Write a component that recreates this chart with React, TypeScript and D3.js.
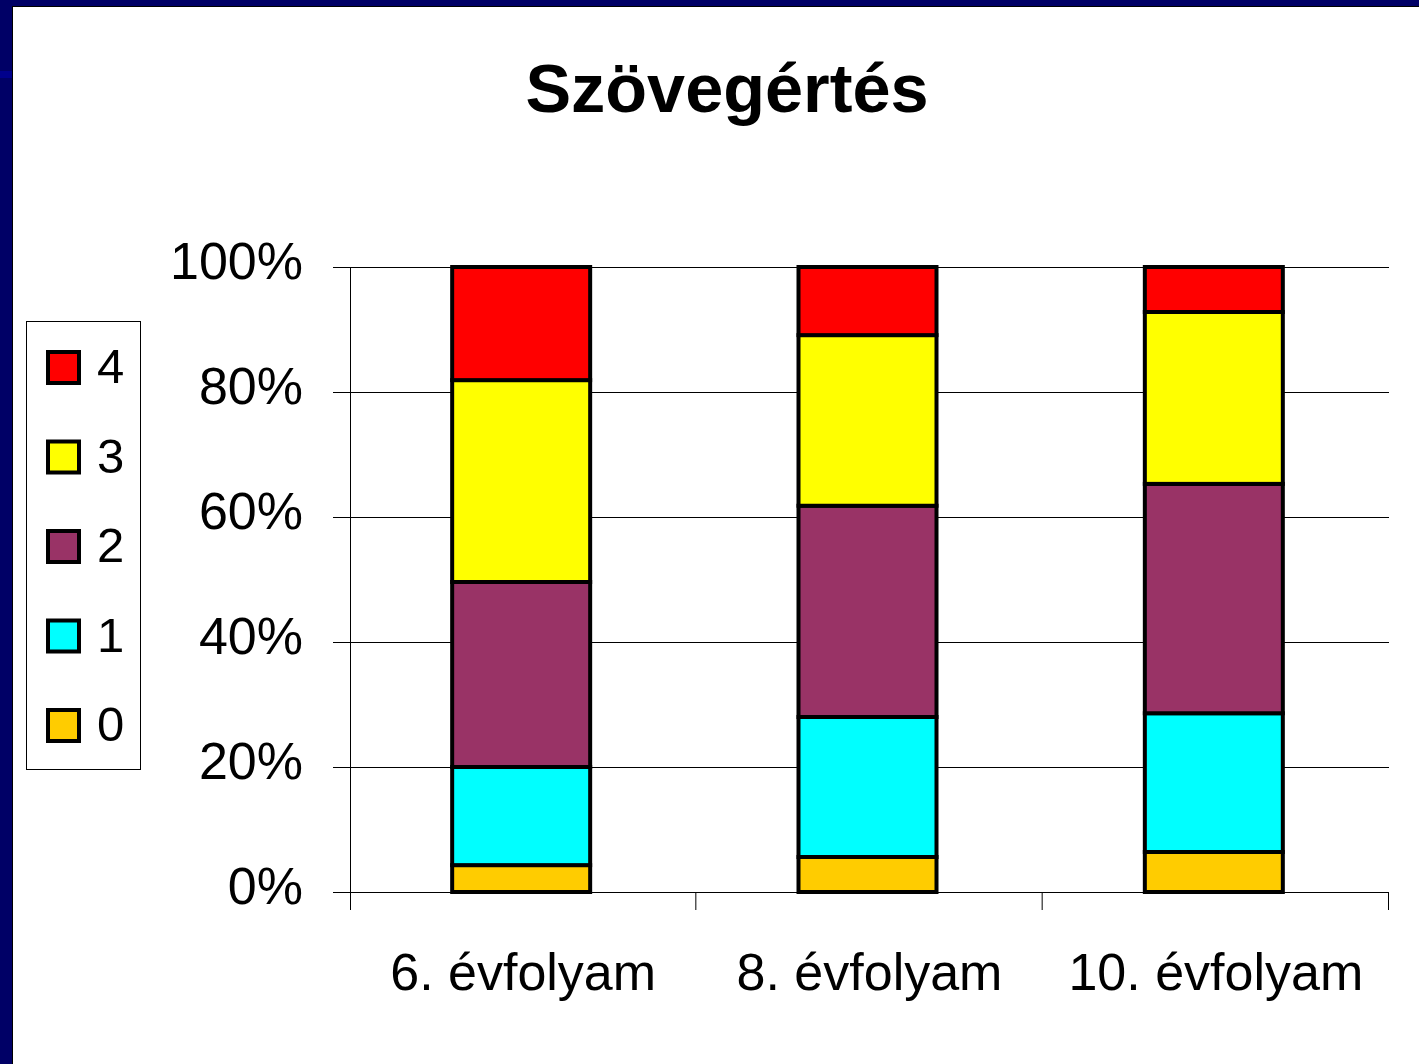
import React from "react";
import * as d3 from "d3";

const categories = ["6. évfolyam", "8. évfolyam", "10. évfolyam"];
const seriesKeys = ["0", "1", "2", "3", "4"];
const series0 = [4.3, 5.6, 6.4];
const series1 = [15.7, 22.4, 22.2];
const series2 = [29.6, 33.8, 36.7];
const series3 = [32.3, 27.3, 27.5];
const series4 = [18.1, 10.9, 7.2];
const seriesColors = ["#FFCC00", "#00FFFF", "#993366", "#FFFF00", "#FF0000"];
const yTicks = [0, 0.2, 0.4, 0.6, 0.8, 1];

const W = 1419, H = 1064;
const font = "Liberation Sans, Arial, sans-serif";

export default function App() {
  const allSeries = [series0, series1, series2, series3, series4];
  const rows = categories.map((c, i) => {
    const r: any = { cat: c };
    seriesKeys.forEach((k, j) => (r[k] = allSeries[j][i]));
    return r;
  });
  const stacked = d3.stack().keys(seriesKeys).offset(d3.stackOffsetExpand)(rows);

  const x0 = 350, x1 = 1389, yTop = 267, yBot = 892;
  const x = d3.scaleBand().domain(categories).range([x0, x1]).paddingInner(0).paddingOuter(0);
  const y = d3.scaleLinear().domain([0, 1]).range([yBot, yTop]);
  const barW = 138;
  const boundaries = [x0, ...categories.map((c) => (x(c) as number) + x.bandwidth())];

  return (
    <svg width={W} height={H} style={{ position: "absolute", left: 0, top: 0 }}>
      <rect x={0} y={0} width={W} height={H} fill="#fff" />
      <rect x={0} y={0} width={W} height={6} fill="#000066" />
      <rect x={0} y={0} width={12} height={H} fill="#000066" />
      <rect x={0} y={71} width={12} height={7} fill="#00008c" />
      <line x1={12} x2={W} y1={6.5} y2={6.5} stroke="#000" strokeWidth={1} />
      <line x1={12.5} x2={12.5} y1={6} y2={H} stroke="#000" strokeWidth={1} />

      <text x={727} y={112} textAnchor="middle" fontFamily={font} fontWeight="bold" fontSize={68} fill="#000"
        textLength={403} lengthAdjust="spacingAndGlyphs">
        Szövegértés
      </text>

      {yTicks.map((t) => (
        <g key={t}>
          <line x1={333} x2={x1} y1={Math.round(y(t)) + 0.5} y2={Math.round(y(t)) + 0.5} stroke="#000" strokeWidth={1} />
          <text x={303} y={y(t) + 12} textAnchor="end" fontFamily={font} fontSize={52} fill="#000">
            {Math.round(t * 100)}%
          </text>
        </g>
      ))}
      <line x1={x0 + 0.5} x2={x0 + 0.5} y1={yTop} y2={910} stroke="#000" strokeWidth={1} />
      {boundaries.slice(1).map((b, i) => (
        <line key={i} x1={b - 0.5} x2={b - 0.5} y1={yBot} y2={910} stroke="#000" strokeWidth={1} />
      ))}

      {stacked.map((s, si) =>
        s.map((d, i) => {
          const cx = (x(categories[i]) as number) + x.bandwidth() / 2 - 2;
          return (
            <rect
              key={si + "-" + i}
              x={cx - barW / 2}
              y={y(d[1])}
              width={barW}
              height={y(d[0]) - y(d[1])}
              fill={seriesColors[si]}
              stroke="#000"
              strokeWidth={4}
            />
          );
        })
      )}

      {categories.map((c) => (
        <text key={c} x={(x(c) as number) + x.bandwidth() / 2} y={990} textAnchor="middle" fontFamily={font} fontSize={52} fill="#000">
          {c}
        </text>
      ))}

      <rect x={26.5} y={321.5} width={114} height={448} fill="#fff" stroke="#000" strokeWidth={1} />
      {seriesKeys
        .slice()
        .reverse()
        .map((k, i) => {
          const si = seriesKeys.length - 1 - i;
          const cy = 367 + i * 89.5;
          return (
            <g key={k}>
              <rect x={48} y={cy - 15} width={31} height={31} fill={seriesColors[si]} stroke="#000" strokeWidth={4} />
              <text x={97} y={cy + 16} fontFamily={font} fontSize={49} fill="#000">
                {k}
              </text>
            </g>
          );
        })}
    </svg>
  );
}
